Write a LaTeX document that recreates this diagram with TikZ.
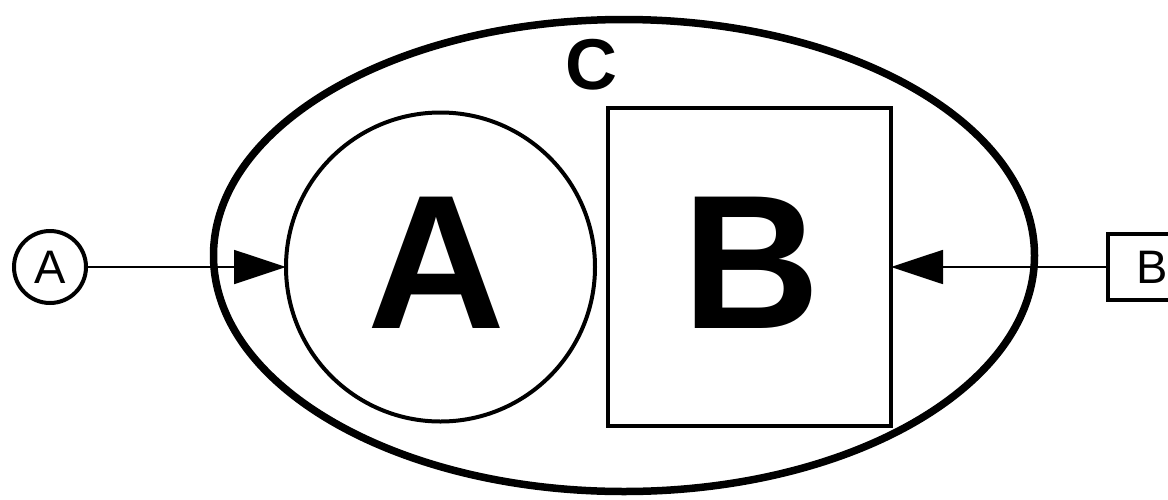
\documentclass[tikz,border=0pt]{standalone}
\usepackage{fontspec}
\setmainfont{Liberation Sans}
\usetikzlibrary{arrows.meta,shapes.geometric}
\tikzset{
  outer/.style={draw, ellipse, line width=7.5pt, inner sep=0pt, outer sep=0pt,
    minimum width=821pt, minimum height=472pt},
  part/.style={draw, line width=4pt, inner sep=0pt, outer sep=0pt},
  port/.style={draw, line width=4pt, inner sep=0pt, outer sep=0pt,
    font=\fontsize{47}{47}\selectfont},
  big/.style={font=\fontsize{191}{191}\selectfont\bfseries, inner sep=0pt},
  conn/.style={-{Triangle[length=52pt,width=34pt]}, line width=1.8pt}
}
\begin{document}
\begin{tikzpicture}[x=1pt,y=-1pt]
  \useasboundingbox (0,0) rectangle (1168,499);
  \node[outer] (ellC) at (624,255.5) {};
  \node[font=\fontsize{72}{72}\selectfont\bfseries, inner sep=0pt] (labC) at (591,65) {C};
  \node[part, circle, minimum size=309pt] (circA) at (440.5,267) {};
  \node[part, rectangle, minimum width=283pt, minimum height=318pt] (boxB) at (749.5,267) {};
  \node[big] (labA) at (436,263) {A};
  \node[big] (labB) at (751,263) {B};
  \node[port, circle, minimum size=72pt] (portA) at (50,267) {A};
  \node[port, rectangle, minimum width=88pt, minimum height=66pt] (portB) at (1152,267) {B};
  \draw[conn] (portA) -- (circA);
  \draw[conn] (portB) -- (boxB);
\end{tikzpicture}
\end{document}
